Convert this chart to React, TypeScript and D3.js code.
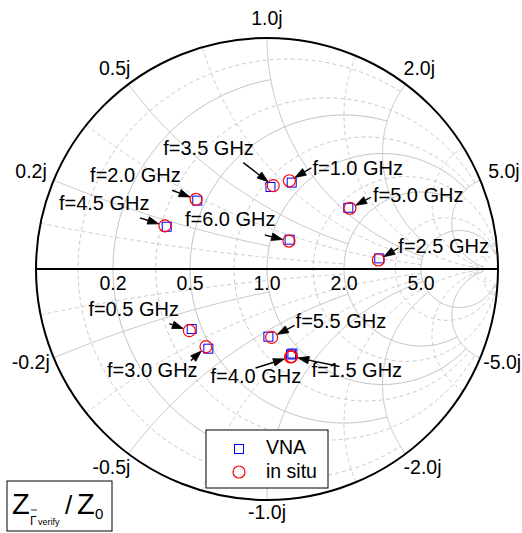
import React from "react";
import * as d3 from "d3";

// ---------- data (reflection coefficient) ----------
const freqLabels = ["0.5", "1.0", "1.5", "2.0", "2.5", "3.0", "3.5", "4.0", "4.5", "5.0", "5.5", "6.0"];
const vnaRe = [-0.326, 0.107, 0.110, -0.302, 0.486, -0.254, 0.015, 0.104, -0.434, 0.352, 0.006, 0.098];
const vnaIm = [-0.260, 0.374, -0.366, 0.296, 0.046, -0.345, 0.355, -0.370, 0.183, 0.265, -0.293, 0.127];
const insituRe = [-0.336, 0.097, 0.106, -0.307, 0.482, -0.264, 0.027, 0.102, -0.442, 0.359, 0.020, 0.095];
const insituIm = [-0.267, 0.382, -0.379, 0.302, 0.039, -0.336, 0.361, -0.381, 0.187, 0.263, -0.296, 0.121];

// grid values (normalized impedance) and their end points
const majorValues = [0.2, 0.5, 1.0, 2.0, 5.0];
const majorLimits = [1, 2, 5, 5, 30];
const minorValues = [0.1, 0.35, 0.75, 1.5, 3.5, 17.5];
const minorLimits = [2, 5, 5, 30, 30, 30];
const resistanceTickLabels = ["0.2", "0.5", "1.0", "2.0", "5.0"];
const reactanceTickLabels = ["0.2j", "0.5j", "1.0j", "2.0j", "5.0j"];
const negReactanceTickLabels = ["-0.2j", "-0.5j", "-1.0j", "-2.0j", "-5.0j"];
const legendLabels = ["VNA", "in situ"];

// ---------- layout ----------
const W = 522, H = 533;
const CX = 267, CY = 269, RAD = 231;
const FONT = "'Liberation Sans', Arial, Helvetica, sans-serif";
// annotation layout: text (left, baseline) offset and arrow tail offset, relative to marker
const labelTextDx = [-101, 23, 20, -106, 20, -99, -110, -80, -106, 23, 24, -104];
const labelTextDy = [-15, -6, 20, -17, -7, 30, -31, 26, -16, -6, -9, -15];
const arrowDx = [-20, 22, 48, -24, 20, -15, -30, -35, -25, 21, 23, -24];
const arrowDy = [-7, -13, 10, -9, -12, 14, -23, 11, -8, -11, -12, -6];

const xS = d3.scaleLinear().domain([-1, 1]).range([CX - RAD, CX + RAD]);
const yS = d3.scaleLinear().domain([-1, 1]).range([CY + RAD, CY - RAD]);
const line = d3.line<[number, number]>().x(d => xS(d[0])).y(d => yS(d[1])).curve(d3.curveLinear);

function gammaOf(r: number, x: number): [number, number] {
  // (r-1+jx)/(r+1+jx)
  const a = r - 1, b = x, c = r + 1, d = x;
  const den = c * c + d * d;
  return [(a * c + b * d) / den, (b * c - a * d) / den];
}

function rCirclePath(r: number, lim: number): string {
  const c = r / (1 + r), rad = 1 / (1 + r);
  const half = 2 * Math.atan(lim / (1 + r));
  const n = 240;
  const pts: [number, number][] = [];
  for (let i = 0; i <= n; i++) {
    const phi = Math.PI - half + (2 * half * i) / n;
    pts.push([c + rad * Math.cos(phi), rad * Math.sin(phi)]);
  }
  return line(pts) || "";
}

function xArcPath(x: number, lim: number): string {
  const n = 300;
  const tMax = lim / (1 + lim);
  const pts: [number, number][] = [];
  for (let i = 0; i <= n; i++) {
    const t = (tMax * i) / n;
    const r = t / (1 - t);
    pts.push(gammaOf(r, x));
  }
  return line(pts) || "";
}

function arrowHead(x1: number, y1: number, x2: number, y2: number, len = 11, hw = 3.8) {
  const dx = x2 - x1, dy = y2 - y1;
  const L = Math.hypot(dx, dy);
  const ux = dx / L, uy = dy / L;
  const bx = x2 - ux * len, by = y2 - uy * len;
  return {
    bx, by,
    pts: `${x2},${y2} ${bx - uy * hw},${by + ux * hw} ${bx + uy * hw},${by - ux * hw}`,
  };
}

export default function App() {
  const solid = "#c2c2c2";
  const dashed = "#c9c9c9";

  const gridMinor: JSX.Element[] = [];
  minorValues.forEach((v, i) => {
    gridMinor.push(<path key={`mr${i}`} d={rCirclePath(v, minorLimits[i])} fill="none" stroke={dashed} strokeWidth={1} strokeDasharray="4,3" />);
    gridMinor.push(<path key={`mxp${i}`} d={xArcPath(v, minorLimits[i])} fill="none" stroke={dashed} strokeWidth={1} strokeDasharray="4,3" />);
    gridMinor.push(<path key={`mxn${i}`} d={xArcPath(-v, minorLimits[i])} fill="none" stroke={dashed} strokeWidth={1} strokeDasharray="4,3" />);
  });
  const gridMajor: JSX.Element[] = [];
  majorValues.forEach((v, i) => {
    gridMajor.push(<path key={`r${i}`} d={rCirclePath(v, majorLimits[i])} fill="none" stroke={solid} strokeWidth={1} />);
    gridMajor.push(<path key={`xp${i}`} d={xArcPath(v, majorLimits[i])} fill="none" stroke={solid} strokeWidth={1} />);
    gridMajor.push(<path key={`xn${i}`} d={xArcPath(-v, majorLimits[i])} fill="none" stroke={solid} strokeWidth={1} />);
  });

  // reactance tick labels
  const reactTicks: JSX.Element[] = [];
  majorValues.forEach((v, i) => {
    [1, -1].forEach(sgn => {
      const th = sgn * (Math.PI - 2 * Math.atan(v));
      const px = xS(Math.cos(th)), py = yS(Math.sin(th));
      const c = Math.cos(th);
      let anchor: "start" | "middle" | "end" = "middle";
      let tx = px, ty = py;
      if (Math.abs(c) < 0.2) {
        anchor = "middle"; tx = px; ty = sgn > 0 ? py - 13 : py + 19;
      } else if (Math.abs(c) < 0.8) {
        anchor = c < 0 ? "end" : "start"; tx = c < 0 ? px + 2 : px - 2; ty = sgn > 0 ? py - 9 : py + 20;
      } else if (sgn > 0) {
        anchor = c < 0 ? "end" : "start"; tx = c < 0 ? px - 7 : px + 8; ty = py - 2;
      } else {
        anchor = c < 0 ? "end" : "start"; tx = c < 0 ? px - 4 : px + 3; ty = py + 11;
      }
      reactTicks.push(
        <text key={`rt${i}${sgn}`} x={tx} y={ty} textAnchor={anchor} fontSize={19.5} fontFamily={FONT} fill="#000">
          {sgn > 0 ? reactanceTickLabels[i] : negReactanceTickLabels[i]}
        </text>
      );
    });
  });

  const resTicks = majorValues.map((v, i) => (
    <text key={`res${i}`} x={xS((v - 1) / (v + 1))} y={CY + 21} textAnchor="middle" fontSize={19.5} fontFamily={FONT} fill="#000">
      {resistanceTickLabels[i]}
    </text>
  ));

  const annotations = freqLabels.map((f, i) => {
    const px = xS(insituRe[i]), py = yS(insituIm[i]);
    const sx = px + arrowDx[i], sy = py + arrowDy[i];
    const d = Math.hypot(sx - px, sy - py);
    const tipx = px + ((sx - px) / d) * 6.5, tipy = py + ((sy - py) / d) * 6.5;
    const ah = arrowHead(sx, sy, tipx, tipy);
    return (
      <g key={`ann${i}`}>
        <line x1={sx} y1={sy} x2={ah.bx} y2={ah.by} stroke="#000" strokeWidth={1.4} />
        <polygon points={ah.pts} fill="#000" stroke="#000" strokeWidth={0.8} />
        <text x={px + labelTextDx[i]} y={py + labelTextDy[i]} fontSize={20} fontFamily={FONT} fill="#000">{`f=${f} GHz`}</text>
      </g>
    );
  });

  return (
    <svg width={W} height={H} style={{ position: "absolute", left: 0, top: 0, background: "#fff" }}>
      <rect x={0} y={0} width={W} height={H} fill="#fff" />
      {gridMinor}
      {gridMajor}
      <line x1={xS(-1)} y1={yS(0)} x2={xS(1)} y2={yS(0)} stroke="#000" strokeWidth={2} />
      <circle cx={xS(0)} cy={yS(0)} r={RAD} fill="none" stroke="#000" strokeWidth={2} />
      {reactTicks}
      {resTicks}
      {vnaRe.map((re, i) => (
        <rect key={`v${i}`} x={xS(re) - 4.5} y={yS(vnaIm[i]) - 4.5} width={9} height={9} fill="none" stroke="#0000ff" strokeWidth={1} />
      ))}
      {insituRe.map((re, i) => (
        <circle key={`s${i}`} cx={xS(re)} cy={yS(insituIm[i])} r={6} fill="none" stroke="#ff0000" strokeWidth={1.2} />
      ))}
      {annotations}
      {/* legend */}
      <g>
        <rect x={206} y={430} width={122} height={58} fill="#fff" stroke="#000" strokeWidth={1} />
        <rect x={234.5} y={444.5} width={9} height={9} fill="none" stroke="#0000ff" strokeWidth={1} />
        <circle cx={239} cy={472} r={6} fill="none" stroke="#ff0000" strokeWidth={1.2} />
        <text x={266} y={454} fontSize={19.5} fontFamily={FONT}>{legendLabels[0]}</text>
        <text x={266} y={478} fontSize={19.5} fontFamily={FONT}>{legendLabels[1]}</text>
      </g>
      {/* quantity box */}
      <g>
        <rect x={7} y={481} width={105} height={50} fill="#fff" stroke="#000" strokeWidth={1} />
        <text x={12} y={514} fontSize={29} fontFamily={FONT}>Z</text>
        <line x1={31} y1={510} x2={37} y2={510} stroke="#000" strokeWidth={0.8} />
        <text x={30} y={525} fontSize={12} fontFamily={FONT}>Γ</text>
        <text x={38} y={525} fontSize={9} fontFamily={FONT}>verify</text>
        <text x={65} y={514} fontSize={26} fontFamily={FONT}>/</text>
        <text x={77} y={514} fontSize={29} fontFamily={FONT}>Z</text>
        <text x={95} y={519} fontSize={15} fontFamily={FONT}>0</text>
      </g>
    </svg>
  );
}
